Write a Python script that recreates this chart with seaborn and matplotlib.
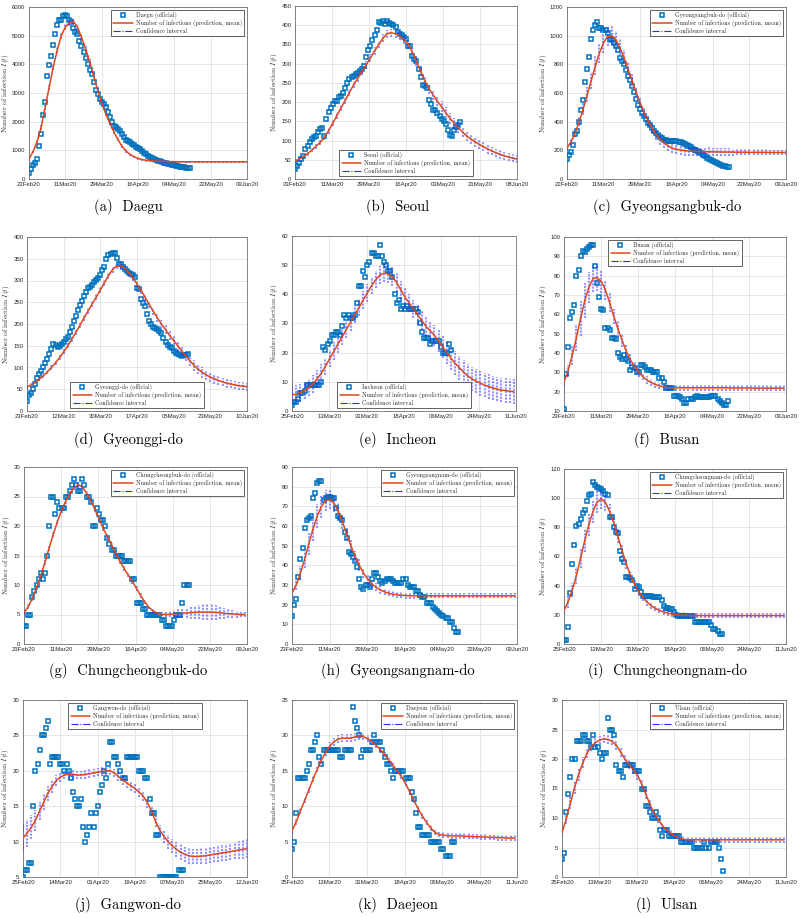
import numpy as np
import pandas as pd
import seaborn as sns
import matplotlib.pyplot as plt
import matplotlib.dates as mdates
from matplotlib.lines import Line2D

sns.set_theme(style='white')
plt.rcParams['font.family'] = ['Liberation Sans', 'DejaVu Sans']
plt.rcParams['mathtext.fontset'] = 'cm'
plt.rcParams['axes.unicode_minus'] = False

OBS_C = '#0072BD'
PRED_C = '#E0461A'
CI_C = '#2a2aff'
SERIF = 'cmr10'

# official counts are daily from the start date, predictions every 2 days

# (a) Daegu
daegu_obs = [200, 340, 490, 550, 700, 1150, 1570, 2240, 2700, 3580,
             3990, 4300, 4690, 5060, 5360, 5540, 5540, 5680, 5720, 5680,
             5540, 5490, 5270, 5120, 5050, 4800, 4630, 4420, 4210, 4020,
             3790, 3650, 3370, 3110, 2950, 2800, 2700, 2620, 2510, 2340,
             2180, 2000, 1850, 1810, 1750, 1690, 1570, 1480, 1360, 1320,
             1280, 1220, 1180, 1110, 1080, 1040, 990, 920, 870, 800,
             780, 750, 700, 660, 640, 620, 580, 560, 550, 520,
             510, 500, 490, 470, 440, 430, 420, 410, 400, 390, 380]
daegu_pred = [700, 950, 1300, 1800, 2500, 3200, 3900, 4500, 5000, 5300,
              5450, 5500, 5300, 4950, 4550, 4100, 3600, 3100, 2650, 2280,
              1950, 1650, 1380, 1150, 980, 860, 780, 720, 680, 655,
              640, 630, 622, 615, 610, 607, 605, 603, 602, 601,
              600, 600, 600, 600, 600, 600, 600, 600, 600, 600,
              600, 600, 600, 600, 600]
daegu_ci = [60, 60, 70, 80, 90, 100, 110, 110, 110, 110,
            110, 110, 100, 100, 100, 90, 90, 90, 90, 80,
            80, 80, 70, 70, 70, 60, 60, 50, 50, 50,
            40, 40, 40, 40, 40, 40, 40, 40, 40, 40,
            40, 40, 40, 40, 40, 40, 40, 40, 40, 40,
            40, 40, 40, 40, 40]

# (b) Seoul
seoul_obs = [25, 34, 42, 51, 61, 77, 86, 96, 104, 108,
             112, 122, 131, 133, 112, 157, 175, 185, 195, 202,
             204, 213, 217, 225, 237, 251, 260, 266, 268, 273,
             276, 280, 287, 294, 318, 335, 345, 362, 375, 388,
             408, 406, 412, 404, 412, 406, 402, 400, 396, 382,
             378, 374, 369, 363, 347, 346, 320, 312, 306, 286,
             266, 245, 241, 237, 206, 195, 180, 180, 171, 165,
             157, 151, 142, 128, 115, 113, 128, 135, 140, 147]
seoul_pred = [47, 52, 58, 66, 75, 85, 95, 108, 125, 145,
              165, 185, 205, 225, 245, 262, 280, 297, 315, 333,
              350, 366, 378, 380, 378, 372, 362, 350, 330, 305,
              280, 255, 235, 218, 202, 188, 172, 158, 145, 133,
              122, 112, 104, 97, 90, 84, 78, 73, 68, 64,
              60, 57, 54, 52]
seoul_ci = [5, 5, 5, 5, 6, 6, 6, 7, 7, 8,
            8, 8, 9, 9, 9, 10, 10, 10, 10, 10,
            10, 10, 10, 10, 10, 10, 10, 11, 11, 12,
            12, 12, 13, 13, 13, 14, 14, 14, 14, 14,
            14, 13, 13, 13, 12, 12, 12, 11, 11, 11,
            10, 10, 10, 10]

# (c) Gyeongsangbuk-do
gyeongbuk_obs = [142, 165, 191, 240, 312, 338, 401, 483, 552, 678,
                 767, 853, 977, 1042, 1075, 1098, 1056, 1056, 1042, 1037,
                 1019, 977, 967, 949, 925, 897, 844, 825, 804, 762,
                 720, 692, 646, 604, 559, 517, 490, 459, 441, 417,
                 394, 378, 354, 338, 324, 308, 291, 284, 273, 273,
                 268, 266, 263, 263, 263, 260, 257, 250, 243, 237,
                 228, 220, 212, 202, 195, 187, 178, 170, 160, 150,
                 141, 133, 125, 118, 110, 103, 97, 92, 88, 87, 86]
gyeongbuk_pred = [215, 260, 320, 400, 490, 590, 690, 790, 880, 950,
                  995, 1000, 975, 920, 850, 770, 690, 610, 535, 465,
                  405, 355, 310, 275, 250, 230, 215, 207, 202, 198,
                  195, 193, 192, 191, 190, 190, 189, 189, 188, 188,
                  188, 187, 187, 187, 187, 186, 186, 186, 186, 186,
                  185, 185, 185, 185, 185]
gyeongbuk_ci = [15, 20, 25, 30, 40, 50, 60, 65, 70, 70,
                70, 65, 60, 55, 50, 45, 40, 35, 35, 35,
                35, 35, 35, 35, 35, 35, 35, 35, 35, 35,
                35, 35, 35, 35, 35, 30, 30, 30, 25, 25,
                25, 25, 20, 20, 20, 20, 20, 20, 20, 20,
                20, 20, 20, 20, 20]

# (d) Gyeonggi-do
gyeonggi_obs = [23, 37, 42, 50, 61, 75, 84, 92, 102, 111,
                119, 130, 142, 153, 152, 148, 150, 155, 159, 165,
                171, 181, 192, 206, 218, 232, 243, 254, 264, 274,
                283, 285, 290, 296, 302, 305, 312, 324, 331, 350,
                359, 362, 364, 364, 352, 339, 339, 332, 327, 321,
                318, 315, 312, 308, 282, 281, 258, 248, 242, 223,
                207, 201, 192, 190, 188, 184, 179, 167, 158, 152,
                148, 144, 138, 133, 130, 128, 127, 128, 129, 132]
gyeonggi_pred = [55, 60, 66, 73, 81, 90, 100, 111, 123, 136,
                 150, 165, 181, 197, 214, 230, 246, 262, 278, 295,
                 311, 325, 334, 334, 328, 318, 306, 292, 277, 261,
                 245, 229, 214, 200, 187, 174, 162, 150, 138, 126,
                 115, 105, 96, 89, 83, 78, 74, 70, 67, 64,
                 62, 60, 58, 57, 56]
gyeonggi_ci = [5, 5, 5, 5, 5, 5, 5, 5, 6, 6,
               6, 6, 6, 6, 6, 6, 7, 7, 7, 7,
               7, 7, 7, 7, 7, 7, 7, 7, 8, 8,
               8, 8, 9, 9, 10, 10, 11, 11, 12, 12,
               12, 12, 12, 12, 12, 11, 11, 11, 10, 10,
               10, 9, 9, 9, 9]

# (e) Incheon
incheon_obs = [2, 3, 3, 4, 6, 6, 7, 9, 9, 9,
               9, 9, 9, 9, 10, 22, 21, 23, 24, 26,
               26, 27, 27, 26, 29, 33, 32, 33, 32, 32,
               33, 37, 43, 43, 48, 46, 50, 51, 54, 54,
               53, 53, 57, 53, 51, 50, 48, 48, 46, 40,
               37, 38, 35, 36, 35, 36, 35, 35, 35, 35,
               34, 30, 27, 25, 25, 25, 23, 24, 24, 24,
               24, 22, 20, 20, 20, 23, 21]
incheon_pred = [5.5, 5.8, 6.3, 7.0, 8.0, 9.3, 11, 13, 15.3, 18,
                20.5, 23, 25.5, 28, 30.5, 33, 35.5, 38, 40.5, 43,
                45, 46.6, 47.3, 47, 46, 44, 41.5, 39, 37, 35,
                33, 31, 29, 27.5, 26, 24, 22, 20, 18, 16.3,
                14.8, 13.3, 12, 11, 10.2, 9.5, 8.9, 8.4, 7.9, 7.5,
                7.2, 7.0, 6.8, 6.6]
incheon_ci = [3.2, 3.2, 3.1, 3, 3, 3, 3, 3, 3, 3,
              3, 3, 3, 3, 3, 3, 3, 3, 3, 3,
              3, 3, 3.2, 3.2, 3.2, 3.2, 3.2, 3.2, 3.2, 3.2,
              3.3, 3.3, 3.4, 3.5, 3.6, 3.7, 3.8, 3.9, 4, 4.1,
              4.2, 4.2, 4.2, 4.2, 4.2, 4.2, 4.2, 4.2, 4.2, 4.2,
              4.2, 4.2, 4.2, 4.2]

# (f) Busan
busan_obs = [11, 29, 43, 58, 61, 65, 80, 83, 90, 93,
             92, 94, 95, 96, 96, 85, 76, 69, 63, 62,
             53, 53, 52, 48, 48, 47, 40, 38, 37, 39,
             37, 36, 31, 33, 32, 30, 30, 34, 34, 33,
             31, 31, 31, 30, 30, 30, 27, 27, 25, 22,
             22, 22, 22, 18, 18, 18, 17, 16, 14, 14,
             16, 16, 16, 17, 18, 17, 17, 17, 17, 17,
             17, 18, 18, 18, 16, 15, 14, 13, 13, 15]
busan_pred = [25, 31, 39, 48, 58, 67, 74, 78.5, 79, 77,
              72.5, 66, 59, 52.5, 46.5, 41, 36.5, 33, 30, 27.8,
              26, 24.7, 23.7, 23, 22.5, 22.2, 22, 22, 22, 22,
              22, 22, 22, 22, 22, 22, 22, 22, 22, 22,
              21.9, 21.9, 21.9, 21.9, 21.9, 21.9, 21.8, 21.8, 21.8, 21.8,
              21.8, 21.8, 21.8, 21.8]
busan_ci = [2, 3, 5, 7, 9, 9, 8, 7, 7, 6,
            5, 5, 4, 4, 3.5, 3, 3, 2.5, 2.5, 2,
            2, 2, 2, 1.8, 1.8, 1.8, 1.6, 1.6, 1.6, 1.6,
            1.5, 1.5, 1.5, 1.5, 1.5, 1.5, 1.5, 1.5, 1.5, 1.5,
            1.5, 1.5, 1.5, 1.5, 1.5, 1.5, 1.5, 1.5, 1.5, 1.5,
            1.5, 1.5, 1.5, 1.5]

# (g) Chungcheongbuk-do
chungbuk_obs = [3, 3, 5, 5, 8, 9, 10, 11, 12, 11,
                12, 15, 20, 25, 25, 22, 24, 23, 23, 23,
                25, 25, 26, 27, 28, 27, 26, 26, 28, 27,
                25, 25, 24, 20, 20, 23, 22, 21, 21, 20,
                18, 17, 16, 16, 15, 15, 15, 15, 14, 14,
                14, 14, 11, 11, 7, 7, 7, 6, 6, 5,
                5, 5, 5, 5, 5, 5, 4, 4, 3, 3,
                3, 3, 4, 5, 5, 5, 7, 10, 10, 10]
chungbuk_pred = [5.3, 6.3, 7.7, 9.5, 11.5, 13.8, 16.2, 18.5, 20.7, 22.6,
                 24.2, 25.5, 26.5, 27, 26.6, 25.6, 24.3, 22.8, 21.2, 19.6,
                 18.2, 16.8, 15.4, 14, 12.8, 11.7, 10.6, 9.4, 8.2, 7.1,
                 6.2, 5.6, 5.2, 5.05, 5.0, 5.05, 5.1, 5.15, 5.2, 5.25,
                 5.3, 5.35, 5.4, 5.4, 5.4, 5.4, 5.35, 5.3, 5.2, 5.15,
                 5.1, 5.05, 5.0, 5.0]
chungbuk_ci = [0.4, 0.4, 0.4, 0.4, 0.4, 0.4, 0.4, 0.4, 0.4, 0.4,
               0.4, 0.4, 0.4, 0.4, 0.4, 0.4, 0.4, 0.4, 0.4, 0.4,
               0.4, 0.4, 0.4, 0.4, 0.4, 0.4, 0.4, 0.4, 0.4, 0.4,
               0.3, 0.3, 0.3, 0.3, 0.4, 0.5, 0.6, 0.7, 0.8, 0.9,
               1.0, 1.1, 1.2, 1.3, 1.3, 1.3, 1.2, 1.0, 0.9, 0.8,
               0.7, 0.6, 0.5, 0.5]

# (h) Gyeongsangnam-do
gyeongnam_obs = [14, 20, 23, 34, 43, 49, 59, 63, 64, 65,
                 74, 77, 82, 83, 83, 73, 74, 75, 75, 74,
                 74, 69, 65, 64, 63, 57, 54, 47, 46, 44,
                 42, 39, 33, 29, 28, 30, 30, 29, 33, 36,
                 36, 34, 32, 31, 32, 33, 33, 33, 32, 31,
                 31, 31, 31, 33, 33, 30, 29, 29, 29, 27,
                 27, 25, 24, 24, 21, 21, 21, 19, 18, 17,
                 16, 15, 14, 13, 13, 11, 11, 8, 6, 6]
gyeongnam_pred = [26, 30, 36, 43, 51, 58.5, 65, 70, 73, 73.5,
                  71.5, 67.5, 62, 56, 50, 44.5, 40, 36, 33, 30.5,
                  28.8, 27.5, 26.5, 25.8, 25.3, 25, 24.8, 24.6, 24.5, 24.5,
                  24.5, 24.5, 24.5, 24.5, 24.5, 24.5, 24.5, 24.5, 24.5, 24.5,
                  24.5, 24.5, 24.5, 24.5, 24.5, 24.5, 24.5, 24.5, 24.5, 24.5,
                  24.5, 24.5, 24.5, 24.5]
gyeongnam_ci = [2, 2.5, 3.5, 4.5, 5.5, 6, 6, 6, 5.5, 5,
                4.5, 4, 3.5, 3, 3, 3, 3, 2.5, 2.5, 2,
                2, 2, 1.5, 1.5, 1.5, 1.5, 1.5, 1.5, 1.5, 1.5,
                1.2, 1.2, 1.2, 1.2, 1.2, 1.2, 1.2, 1.2, 1.2, 1.2,
                1.2, 1.2, 1.2, 1.2, 1.2, 1.2, 1.2, 1.2, 1.2, 1.2,
                1.2, 1.2, 1.2, 1.2]

# (i) Chungcheongnam-do
chungnam_obs = [3, 3, 12, 35, 55, 68, 81, 82, 86, 90,
                92, 98, 102, 103, 111, 109, 108, 107, 106, 105,
                103, 102, 87, 87, 80, 77, 76, 64, 58, 56,
                46, 46, 45, 44, 38, 40, 39, 36, 33, 33,
                33, 33, 33, 32, 32, 32, 32, 30, 26, 25,
                25, 24, 24, 22, 20, 19, 19, 19, 19, 19,
                19, 19, 19, 15, 15, 15, 15, 15, 15, 15,
                15, 13, 10, 10, 9, 7, 7]
chungnam_pred = [23, 29, 37, 47, 59, 71, 82, 91, 97.5, 99.5,
                 97, 91, 83, 73.5, 64, 55, 47, 41, 36, 32,
                 28.8, 26.3, 24.4, 23, 22, 21.2, 20.6, 20.2, 19.9, 19.7,
                 19.6, 19.5, 19.5, 19.5, 19.5, 19.5, 19.5, 19.5, 19.5, 19.5,
                 19.5, 19.5, 19.5, 19.5, 19.5, 19.5, 19.5, 19.5, 19.5, 19.5,
                 19.5, 19.5, 19.5, 19.5]
chungnam_ci = [3, 4, 5, 6, 7, 8, 8, 8, 8, 7,
               6, 5, 4.5, 4, 4, 3.5, 3, 3, 3, 2.5,
               2.5, 2.5, 2, 2, 2, 2, 2, 2, 2, 2,
               2, 2, 2, 2, 2, 2, 2, 2, 2, 2,
               2, 2, 2, 2, 2, 2, 2, 2, 2, 2,
               2, 2, 2, 2]

# (j) Gangwon-do
gangwon_obs = [5, 6, 6, 7, 7, 15, 20, 21, 23, 25,
               25, 26, 27, 21, 22, 22, 22, 22, 21, 21,
               20, 21, 20, 19, 17, 16, 15, 15, 16, 12,
               10, 11, 12, 14, 12, 14, 15, 17, 18, 20,
               19, 21, 24, 24, 22, 22, 21, 20, 19, 19,
               22, 22, 22, 22, 22, 22, 20, 20, 20, 19,
               19, 16, 14, 14, 11, 11, 5, 5, 5, 5,
               5, 5, 5, 5, 5, 6, 6, 6]
gangwon_pred = [10.5, 11.2, 12, 13, 14.3, 15.6, 16.8, 17.8, 18.6, 19.1,
                19.4, 19.5, 19.5, 19.4, 19.4, 19.5, 19.6, 19.7, 19.8, 19.9,
                20.0, 20.0, 19.7, 19.2, 18.7, 18.3, 17.9, 17.5, 17.0, 16.4,
                15.5, 14.3, 12.8, 11.6, 10.7, 10.0, 9.4, 8.9, 8.5, 8.2,
                8.0, 7.9, 7.9, 7.95, 8.0, 8.1, 8.2, 8.3, 8.4, 8.5,
                8.6, 8.7, 8.8, 8.9, 9.0]
gangwon_ci = [2.0, 1.9, 1.7, 1.5, 1.3, 1.1, 1.0, 0.9, 0.8, 0.7,
              0.6, 0.6, 0.6, 0.6, 0.6, 0.6, 0.6, 0.6, 0.6, 0.6,
              0.6, 0.6, 0.6, 0.6, 0.7, 0.7, 0.7, 0.7, 0.7, 0.7,
              0.7, 0.7, 0.8, 0.8, 0.9, 1.0, 1.0, 1.1, 1.1, 1.1,
              1.1, 1.1, 1.1, 1.1, 1.1, 1.1, 1.1, 1.2, 1.2, 1.2,
              1.2, 1.2, 1.3, 1.3, 1.3]

# (k) Daejeon
daejeon_obs = [4, 5, 9, 14, 14, 14, 14, 15, 16, 18,
               18, 19, 20, 17, 16, 18, 18, 18, 18, 18,
               18, 18, 18, 17, 17, 18, 18, 18, 18, 24,
               22, 21, 20, 17, 18, 18, 18, 18, 19, 20,
               19, 19, 19, 18, 17, 16, 16, 15, 14, 15,
               15, 15, 15, 15, 14, 14, 14, 12, 11, 9,
               7, 7, 6, 6, 6, 6, 5, 5, 5, 5,
               5, 4, 4, 3, 3, 3, 5, 5]
daejeon_pred = [6.5, 7.8, 9.3, 10.8, 12.3, 13.8, 15.2, 16.5, 17.6, 18.5,
                19.1, 19.5, 19.6, 19.6, 19.6, 19.8, 20.0, 19.8, 19.5, 19.1,
                18.6, 18.0, 17.3, 16.5, 15.8, 15.0, 14.2, 13.2, 12.0, 10.8,
                9.6, 8.6, 7.7, 6.9, 6.3, 6.0, 5.9, 5.85, 5.8, 5.8,
                5.8, 5.75, 5.75, 5.7, 5.7, 5.65, 5.65, 5.6, 5.6, 5.55,
                5.55, 5.5, 5.5, 5.5]
daejeon_ci = [0.4, 0.4, 0.4, 0.4, 0.4, 0.4, 0.4, 0.5, 0.5, 0.6,
              0.6, 0.6, 0.6, 0.6, 0.6, 0.6, 0.6, 0.5, 0.5, 0.5,
              0.4, 0.4, 0.4, 0.4, 0.4, 0.4, 0.4, 0.4, 0.4, 0.4,
              0.4, 0.4, 0.4, 0.4, 0.4, 0.4, 0.4, 0.4, 0.4, 0.4,
              0.4, 0.4, 0.4, 0.4, 0.4, 0.4, 0.4, 0.4, 0.4, 0.4,
              0.4, 0.4, 0.4, 0.4]

# (l) Ulsan
ulsan_obs = [3, 4, 11, 14, 17, 20, 20, 23, 23, 23,
             24, 24, 23, 23, 22, 24, 22, 22, 21, 20,
             21, 21, 27, 25, 25, 24, 19, 18, 18, 17,
             19, 19, 19, 19, 19, 18, 18, 18, 15, 15,
             12, 12, 11, 10, 10, 11, 10, 8, 7, 8,
             8, 7, 7, 7, 7, 7, 7, 6, 6, 6,
             6, 6, 6, 5, 5, 5, 5, 5, 6, 5,
             5, 6, 6, 6, 6, 5, 3, 1]
ulsan_pred = [7.5, 9.8, 12.5, 15.2, 17.4, 19.4, 21.0, 22.1, 22.8, 23.2,
              23.4, 23.3, 23.0, 22.3, 21.2, 20.0, 19.1, 18.2, 17.3, 15.8,
              14.1, 12.3, 10.8, 9.7, 8.7, 8.0, 7.4, 6.9, 6.6, 6.4,
              6.3, 6.3, 6.3, 6.3, 6.3, 6.3, 6.3, 6.3, 6.3, 6.3,
              6.3, 6.3, 6.3, 6.3, 6.3, 6.3, 6.3, 6.3, 6.3, 6.3,
              6.3, 6.3, 6.3, 6.3]
ulsan_ci = [0.8, 0.9, 1.0, 1.1, 1.1, 1.0, 0.9, 0.8, 0.7, 0.7,
            0.7, 0.7, 0.7, 0.7, 0.8, 0.8, 0.8, 0.8, 0.8, 0.8,
            0.8, 0.7, 0.6, 0.5, 0.5, 0.5, 0.5, 0.5, 0.5, 0.5,
            0.5, 0.5, 0.5, 0.5, 0.5, 0.5, 0.5, 0.5, 0.5, 0.5,
            0.5, 0.5, 0.5, 0.5, 0.5, 0.5, 0.5, 0.5, 0.5, 0.5,
            0.5, 0.5, 0.5, 0.5]

letters = ['a', 'b', 'c', 'd', 'e', 'f', 'g', 'h', 'i', 'j', 'k', 'l']
names = ['Daegu', 'Seoul', 'Gyeongsangbuk-do', 'Gyeonggi-do', 'Incheon', 'Busan',
         'Chungcheongbuk-do', 'Gyeongsangnam-do', 'Chungcheongnam-do',
         'Gangwon-do', 'Daejeon', 'Ulsan']
starts = ['2020-02-22', '2020-02-23', '2020-02-22', '2020-02-23', '2020-02-25', '2020-02-23',
          '2020-02-23', '2020-02-23', '2020-02-25', '2020-02-25', '2020-02-25', '2020-02-25']
ends = ['2020-06-09', '2020-06-08', '2020-06-09', '2020-06-10', '2020-06-11', '2020-06-09',
        '2020-06-09', '2020-06-09', '2020-06-11', '2020-06-12', '2020-06-11', '2020-06-11']
ylims = [(0, 6000, 1000), (0, 450, 50), (0, 1200, 200), (0, 400, 50), (0, 60, 10), (10, 100, 10),
         (0, 30, 5), (0, 90, 10), (0, 120, 20), (5, 30, 5), (0, 25, 5), (0, 30, 5)]
obs_all = [daegu_obs, seoul_obs, gyeongbuk_obs, gyeonggi_obs, incheon_obs, busan_obs,
           chungbuk_obs, gyeongnam_obs, chungnam_obs, gangwon_obs, daejeon_obs, ulsan_obs]
pred_all = [daegu_pred, seoul_pred, gyeongbuk_pred, gyeonggi_pred, incheon_pred, busan_pred,
            chungbuk_pred, gyeongnam_pred, chungnam_pred, gangwon_pred, daejeon_pred, ulsan_pred]
ci_all = [daegu_ci, seoul_ci, gyeongbuk_ci, gyeonggi_ci, incheon_ci, busan_ci,
          chungbuk_ci, gyeongnam_ci, chungnam_ci, gangwon_ci, daejeon_ci, ulsan_ci]
legend_locs = ['upper right', 'lower center', 'upper right', 'lower center', 'lower center', 'upper center',
               'upper right', 'upper right', 'upper right', 'upper center', 'upper right', 'upper right']

# axes boxes in pixels (left, top, right, bottom)
boxes = [(29, 7, 247, 179), (295, 6, 517, 179), (567, 7, 786, 179),
         (27, 237, 247, 411), (292, 236, 516, 411), (564, 237, 786, 411),
         (24, 467, 247, 644), (292, 467, 517, 644), (564, 469, 786, 644),
         (23, 700, 247, 877), (292, 700, 517, 877), (562, 700, 786, 877)]
cap_x = [128, 398, 667]
cap_y = [207, 440, 671, 905]

W, H = 800, 918
fig = plt.figure(figsize=(W / 100, H / 100), dpi=100)

for i in range(12):
    l, t, r, b = boxes[i]
    ax = fig.add_axes([l / W, 1 - b / H, (r - l) / W, (b - t) / H])
    start = pd.Timestamp(starts[i])
    end = pd.Timestamp(ends[i])
    obs = obs_all[i]
    n = min(len(pred_all[i]), len(ci_all[i]))
    pred = np.array(pred_all[i][:n], dtype=float)
    ci = np.array(ci_all[i][:n], dtype=float)
    obs_dates = pd.date_range(start, periods=len(obs), freq='D')
    pred_dates = pd.date_range(start, periods=n, freq='2D')

    sns.lineplot(x=obs_dates, y=obs, ax=ax, marker='s', linestyle='none',
                 markersize=3.4, markerfacecolor='none', markeredgecolor=OBS_C,
                 markeredgewidth=1.1, estimator=None, errorbar=None, zorder=3)
    # confidence interval: dotted vertical bars around the mean
    ax.vlines(pred_dates, pred - ci, pred + ci, colors=CI_C,
              linestyles=(0, (1.0, 0.6)), linewidth=1.5, alpha=0.5, zorder=4)
    sns.lineplot(x=pred_dates, y=pred, ax=ax, color=PRED_C, linewidth=1.1,
                 estimator=None, errorbar=None, zorder=5)

    lo, hi, step = ylims[i]
    ax.set_ylim(lo, hi)
    ax.set_yticks(np.arange(lo, hi + step / 2, step))
    ax.set_xlim(start, end)
    ax.set_xticks(np.linspace(mdates.date2num(start), mdates.date2num(end), 7))
    ax.xaxis.set_major_formatter(mdates.DateFormatter('%d%b%y'))
    ax.tick_params(axis='both', direction='in', length=2, width=0.5,
                   labelsize=4.3, color='#262626', labelcolor='#262626')
    ax.tick_params(axis='x', pad=2)
    ax.tick_params(axis='y', pad=2.5)
    ax.grid(True, color='#dcdcdc', linewidth=0.5)
    ax.set_axisbelow(True)
    for s in ax.spines.values():
        s.set_color('#555555')
        s.set_linewidth(0.5)
    ax.set_xlabel('')
    ax.set_ylabel('Number of infection $I(t)$', fontfamily=SERIF, fontsize=5.3,
                  color='#262626', labelpad=1)

    handles = [Line2D([], [], marker='s', linestyle='none', markerfacecolor='none',
                      markeredgecolor=OBS_C, markeredgewidth=1.1, markersize=3.4),
               Line2D([], [], color=PRED_C, linewidth=1.1),
               Line2D([], [], color=CI_C, linewidth=0.8, linestyle='-.')]
    labels = [f'{names[i]} (official)', 'Number of infections (prediction, mean)',
              'Confidence interval']
    leg = ax.legend(handles, labels, loc=legend_locs[i], prop={'family': SERIF, 'size': 4.4},
                    frameon=True, fancybox=False, edgecolor='#262626', framealpha=1,
                    borderpad=0.35, labelspacing=0.15, handlelength=3.2,
                    handletextpad=0.5, borderaxespad=0.5, numpoints=1)
    leg.get_frame().set_linewidth(0.5)

    fig.text(cap_x[i % 3] / W, 1 - cap_y[i // 3] / H, f'({letters[i]})  {names[i]}',
             ha='center', va='center', fontfamily=SERIF, fontsize=10.5, color='black')

fig.savefig('out.png', dpi=100)
